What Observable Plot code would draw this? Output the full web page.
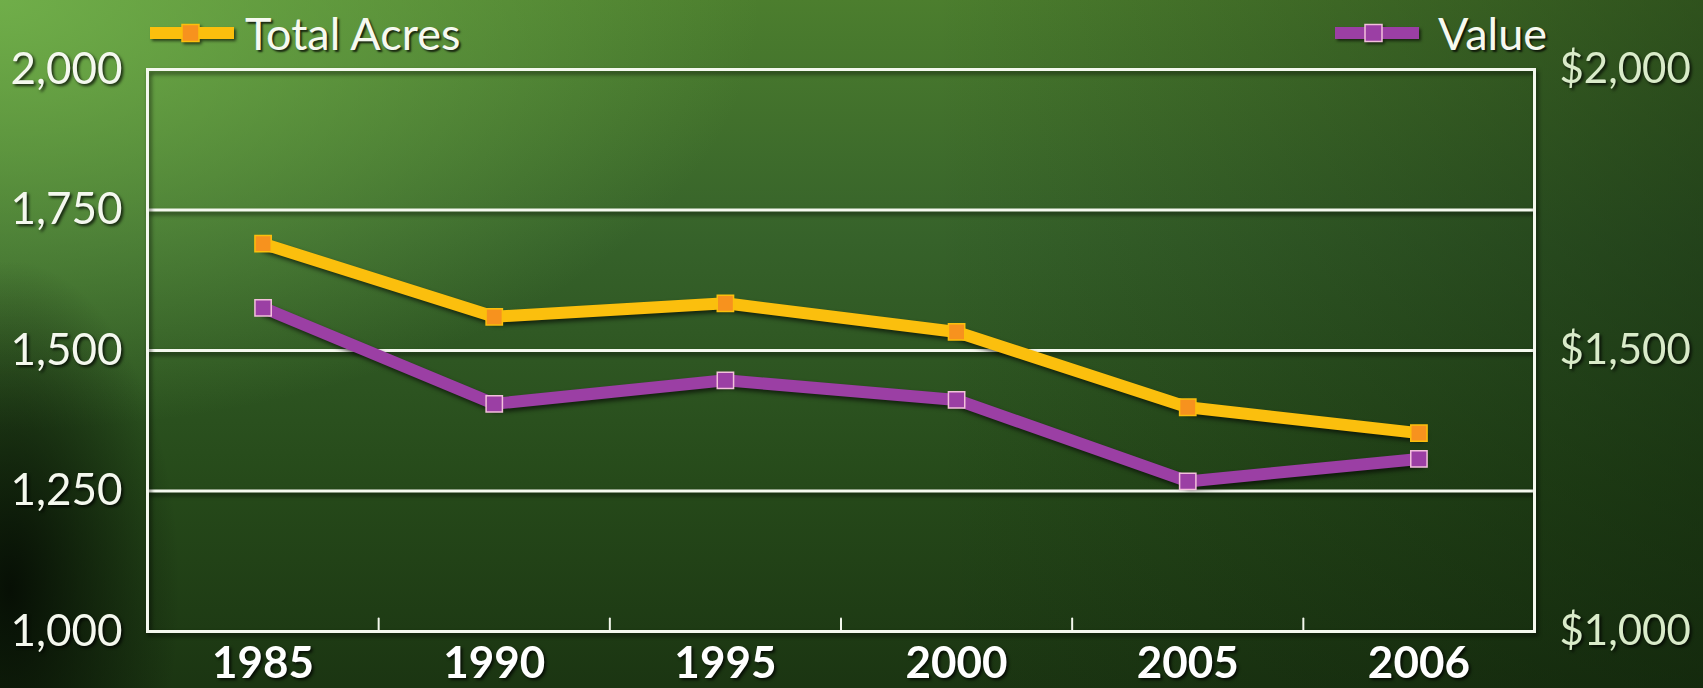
<!DOCTYPE html>
<html>
<head>
<meta charset="utf-8">
<script src="https://cdn.jsdelivr.net/npm/d3@7"></script>
<script src="https://cdn.jsdelivr.net/npm/@observablehq/plot@0.6"></script>
<style>
  html, body { margin: 0; padding: 0; }
  body { width: 1703px; height: 688px; overflow: hidden; font-family: Lato, "Open Sans", sans-serif; }
  #wrap {
    position: relative; width: 1703px; height: 688px;
    background:
      radial-gradient(ellipse 170px 330px at 10px 590px, rgba(4,10,3,0.9), rgba(4,10,3,0) 100%),
      radial-gradient(ellipse 760px 430px at 0px 0px, rgba(118,182,78,0.85), rgba(118,182,78,0) 100%),
      linear-gradient(to right, rgba(12,28,8,0) 55%, rgba(12,28,8,0.45) 100%),
      linear-gradient(to bottom, #4c7e2e 0%, #36622a 35%, #264a1a 70%, #1b3512 100%);
  }
  #chart { position: absolute; left: 0; top: 0; }
  #chart svg text { filter: drop-shadow(2px 2px 1.5px rgba(0,0,0,0.75)); }
  .shadow { filter: drop-shadow(2px 3px 2px rgba(0,0,0,0.6)); }
  .legend { position: absolute; display: flex; align-items: center; height: 40px; }
  .legend span { font-size: 45px; color: #f6f9f0; margin-left: 10px; line-height: 40px;
    text-shadow: 2px 2px 2px rgba(0,0,0,0.75); }
  .legend svg { filter: drop-shadow(2px 2px 1.5px rgba(0,0,0,0.6)); }
</style>
</head>
<body>
<div id="wrap">
  <div id="chart"></div>
  <div class="legend" style="left:149px; top:13px;">
    <svg width="86" height="22"><rect x="1" y="5" width="84" height="12" fill="#fbbf0d"/><rect x="33" y="2.5" width="17" height="17" fill="#f7921e" stroke="#fbbf0d" stroke-width="1.5"/></svg>
    <span>Total Acres</span>
  </div>
  <div class="legend" style="left:1334px; top:13px;">
    <svg width="86" height="22"><rect x="1" y="5" width="84" height="12" fill="#9b3fa4"/><rect x="31" y="2.5" width="17" height="17" fill="#9b3fa4" stroke="#f3c0dc" stroke-width="1.5"/></svg>
    <span style="margin-left:18px">Value</span>
  </div>
</div>
<script>
// ---- data ----
const years = ["1985", "1990", "1995", "2000", "2005", "2006"];
const totalAcres = [1690, 1560, 1584, 1533, 1399, 1353];
const valueDollars = [1576, 1405, 1447, 1412, 1267, 1307];
const leftTicks = [1000, 1250, 1500, 1750, 2000];
const rightTicks = [1000, 1500, 2000];
const gridValues = [1250, 1500, 1750];

// ---- tables built from the arrays ----
const idx = years.map((_, i) => i);
const boundaries = years.slice(1).map((_, i) => i + 0.5);
const acresData = years.map((y, i) => ({i, year: y, v: totalAcres[i]}));
const valueData = years.map((y, i) => ({i, year: y, v: valueDollars[i]}));

const YELLOW = "#fbbf0d", ORANGE = "#f7921e", PURPLE = "#9b3fa4", PINK = "#f3c0dc";
const fmt = d3.format(",");
const stick = {draw(context, l) { context.moveTo(0, 0); context.lineTo(0, -l); }};

const chart = Plot.plot({
  width: 1703,
  height: 688,
  marginLeft: 147,
  marginRight: 169,
  marginTop: 69,
  marginBottom: 57,
  style: {background: "transparent", overflow: "visible", fontFamily: "Lato, 'Open Sans', sans-serif"},
  x: {domain: [-0.5, years.length - 0.5], axis: null, label: null},
  y: {domain: [1000, 2000], axis: null, label: null},
  marks: [
    Plot.ruleY(gridValues, {stroke: "#f4f8ee", strokeWidth: 3, className: "shadow"}),
    Plot.frame({stroke: "#f4f8ee", strokeWidth: 3, className: "shadow"}),
    Plot.vector(boundaries, {x: d => d, y: 1000, length: 13, anchor: "start", shape: stick, stroke: "#f4f8ee", strokeWidth: 2}),
    Plot.axisX({ticks: idx, tickFormat: i => years[i], tickSize: 0, tickPadding: 15, label: null,
      fontSize: 44, fontWeight: 700, fill: "#ffffff", anchor: "bottom"}),
    Plot.axisY({anchor: "left", ticks: leftTicks, tickFormat: fmt, tickSize: 0, tickPadding: 25, label: null,
      fontSize: 44, fill: "#f4f8ee"}),
    Plot.axisY({anchor: "right", ticks: rightTicks, tickFormat: d => "$" + fmt(d), tickSize: 0, tickPadding: 25, label: null,
      fontSize: 42, fill: "#d9ebc9"}),
    Plot.line(acresData, {x: "i", y: "v", stroke: YELLOW, strokeWidth: 12, strokeLinejoin: "miter", className: "shadow"}),
    Plot.line(valueData, {x: "i", y: "v", stroke: PURPLE, strokeWidth: 12, strokeLinejoin: "miter", className: "shadow"}),
    Plot.dot(acresData, {x: "i", y: "v", symbol: "square", r: 9.2, fill: ORANGE, stroke: YELLOW, strokeWidth: 1.5}),
    Plot.dot(valueData, {x: "i", y: "v", symbol: "square", r: 9.2, fill: PURPLE, stroke: PINK, strokeWidth: 1.5})
  ]
});
document.getElementById("chart").appendChild(chart);
</script>
</body>
</html>
